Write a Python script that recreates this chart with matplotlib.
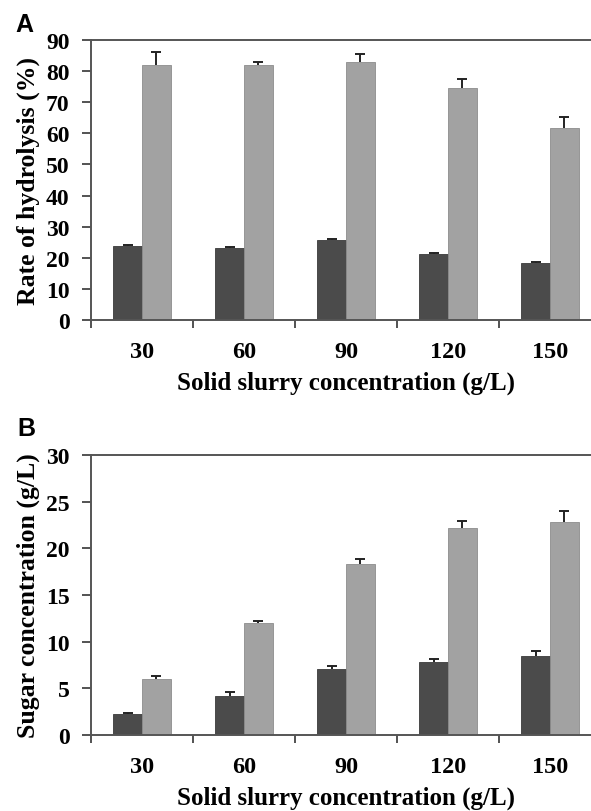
import numpy as np
import matplotlib
matplotlib.use('Agg')
import matplotlib.pyplot as plt

# data
conc = ['30', '60', '90', '120', '150']

rate_dark = [23.9, 23.1, 25.8, 21.3, 18.4]
rate_dark_err = [0.3, 0.3, 0.3, 0.1, 0.3]
rate_light = [82.0, 82.0, 82.9, 74.6, 61.8]
rate_light_err = [4.0, 0.9, 2.5, 2.9, 3.3]

sugar_dark = [2.2, 4.2, 7.05, 7.8, 8.5]
sugar_dark_err = [0.15, 0.45, 0.3, 0.3, 0.55]
sugar_light = [6.05, 12.05, 18.35, 22.2, 22.8]
sugar_light_err = [0.3, 0.15, 0.55, 0.7, 1.25]

W, H = 591, 812
DARK = '#4b4b4b'
LIGHT = '#a2a2a2'
SERIF = ['Liberation Serif', 'DejaVu Serif']


def bars(ax, xs, vals, errs, color, edge):
    ax.bar(xs, vals, 0.28, color=color, edgecolor=edge, linewidth=0.6, zorder=2)
    tops = np.array(vals) + np.array(errs)
    # upper error only, cap on top
    ax.vlines(xs, vals, tops, color='#222222', linewidth=1.4, zorder=3)
    ax.plot(xs, tops, linestyle='none', marker='_', markersize=7,
            markeredgewidth=1.4, color='#222222', zorder=3)


def panel(ax, dark, dark_err, light, light_err, ymax, ystep, ylabel):
    x = np.arange(len(conc))
    w = 0.28
    bars(ax, x - w / 2, dark, dark_err, DARK, '#3a3a3a')
    bars(ax, x + w / 2, light, light_err, LIGHT, '#8c8c8c')
    ax.set_xlim(-0.5, len(conc) - 0.5)
    ax.set_ylim(0, ymax)
    yt = np.arange(0, ymax + 0.1, ystep)
    ax.set_yticks(yt)
    ax.set_yticklabels([f'{v:g}' for v in yt],
                       fontfamily=SERIF, fontweight='bold', fontsize=17)
    ax.set_xticks(x)
    ax.set_xticklabels(conc, fontfamily=SERIF, fontweight='bold', fontsize=17.5)
    ax.set_xticks(np.arange(-0.5, len(conc) + 0.5, 1), minor=True)
    ax.tick_params(axis='x', which='major', length=0, pad=15)
    ax.tick_params(axis='x', which='minor', length=6, width=1.3,
                   direction='out', color='#444444')
    ax.tick_params(axis='y', length=6.5, width=1.3, direction='out',
                   color='#444444', pad=9)
    for s in ['left', 'bottom', 'top']:
        ax.spines[s].set_color('#555555')
        ax.spines[s].set_linewidth(1.4)
    ax.spines['right'].set_visible(False)
    ax.set_ylabel(ylabel, fontfamily=SERIF, fontweight='bold', fontsize=18.5,
                  labelpad=4)
    ax.set_xlabel('Solid slurry concentration (g/L)', fontfamily=SERIF,
                  fontweight='bold', fontsize=18, labelpad=6)


fig = plt.figure(figsize=(W / 100, H / 100), dpi=100)
left, right = 91, 601
axA = fig.add_axes([left / W, 1 - 321 / H, (right - left) / W, (321 - 41) / H])
axB = fig.add_axes([left / W, 1 - 736 / H, (right - left) / W, (736 - 456) / H])

panel(axA, rate_dark, rate_dark_err, rate_light, rate_light_err, 90, 10,
      'Rate of hydrolysis (%)')
panel(axB, sugar_dark, sugar_dark_err, sugar_light, sugar_light_err, 30, 5,
      'Sugar concentration (g/L)')

fig.text(15 / W, 1 - 25 / H, 'A', fontfamily=['Liberation Sans', 'DejaVu Sans'],
         fontweight='bold', fontsize=18, va='center', ha='left')
fig.text(17 / W, 1 - 429 / H, 'B', fontfamily=['Liberation Sans', 'DejaVu Sans'],
         fontweight='bold', fontsize=18, va='center', ha='left')

fig.savefig('out.png', dpi=100)
